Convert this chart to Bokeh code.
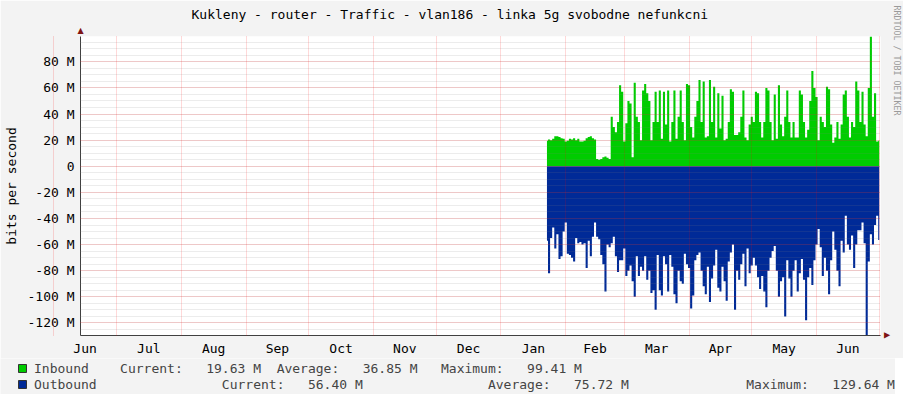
from bokeh.plotting import figure
from bokeh.layouts import column
from bokeh.models import Range1d, FixedTicker, Legend, LegendItem, ColumnDataSource, Title
from bokeh.embed import file_html
from bokeh.resources import INLINE

# ---------------- data ----------------
title_text = "Kukleny - router - Traffic - vlan186 - linka 5g svobodne nefunkcni"
y_axis_title = "bits per second"
watermark_text = "RRDTOOL / TOBI OETIKER"

month_labels = ["Jun", "Jul", "Aug", "Sep", "Oct", "Nov", "Dec", "Jan", "Feb", "Mar", "Apr", "May", "Jun"]
# day index (days since 1 Jun) of each month start, last entry = 1 Jul next year
month_start_day = [0, 30, 61, 92, 122, 153, 183, 214, 245, 273, 304, 334, 365, 395]
view_start_day = 12.8
view_end_day = 395.6

first_sample_day = 236   # first day with data (late January)

inbound_mbps = [
    19.5, 20.5, 20, 21, 23, 23, 22.5, 21.5, 21, 19,
    19.5, 21, 20.5, 21.5, 20, 21, 19, 19, 19.5, 21.5,
    22.5, 23, 21.5, 20.5, 5.5, 5, 5.5, 7, 7.5, 6.5,
    5.5,
    38, 30, 26, 34, 62, 57, 19, 33, 50, 48,
    7, 64, 38, 34, 20, 58, 63, 56, 50, 20,
    34, 57, 34, 58, 21, 57, 32, 58, 19, 34,
    58, 21, 38, 58, 34, 20, 63, 62, 30, 22,
    38, 50, 66, 34, 65, 22, 23, 66, 34, 61,
    22, 56, 29, 54, 20, 21, 34, 59, 57, 24,
    24, 26, 38, 58, 22, 20, 32, 38, 34, 57,
    56, 34, 22, 34, 60, 58, 34, 20, 55, 21,
    62, 32, 23, 38, 58, 34, 22, 34, 22, 22,
    58, 55, 34, 22, 28, 50, 73, 60, 53, 20,
    38, 34, 30, 61, 59, 32, 18, 22, 34, 21,
    32, 55, 58, 38, 22, 34, 30, 65, 58, 34,
    57, 32, 23, 60, 99.41, 38, 56, 19, 19.63,
]

outbound_mbps = [
    57, 82, 55, 47, 63, 52, 71, 69, 50, 43,
    67, 68, 70, 73, 55, 59, 58, 60, 59, 78,
    57, 69, 54, 43, 54, 56, 68, 75, 96, 60,
    62, 59, 54, 69, 81, 72, 72, 63, 84, 80,
    76, 88, 100, 69, 84, 77, 80, 69, 87, 80,
    97, 95, 110, 68, 95, 99, 69, 75, 96, 68,
    77, 98, 105, 80, 88, 90, 67, 75, 78, 109,
    99, 72, 68, 66, 80, 92, 98, 77, 104, 86,
    76, 64, 93, 96, 77, 88, 103, 73, 66, 60,
    110, 80, 87, 75, 67, 92, 63, 82, 76, 70,
    76, 85, 94, 84, 96, 108, 80, 70, 65, 61,
    80, 100, 88, 85, 115, 72, 86, 100, 80, 72,
    96, 82, 71, 87, 118, 85, 78, 91, 72, 60,
    48, 62, 84, 70, 80, 98, 72, 50, 64, 80,
    92, 57, 66, 38, 60, 64, 53, 78, 60, 49,
    49, 43, 59, 129.64, 73, 52, 60, 45, 38, 56.4,
]

y_tick_values_m = [-120, -100, -80, -60, -40, -20, 0, 20, 40, 60, 80]
y_tick_labels = ["-120 M", "-100 M", "-80 M", "-60 M", "-40 M", "-20 M", "0", "20 M", "40 M", "60 M", "80 M"]
y_minor_step_m = 5
y_min_m = -129.64
y_max_m = 99.41

series_names = ["Inbound", "Outbound"]
series_colors = ["#00CC00", "#002A97"]
stat_current = ["19.63 M", "56.40 M"]
stat_average = ["36.85 M", "75.72 M"]
stat_maximum = ["99.41 M", "129.64 M"]

# ---------------- style constants ----------------
FONT = "DejaVu Sans Mono"
FS = "13px"
BG = "#F3F3F3"
ARROW = "#7F1414"
FRAME_L, FRAME_T, FRAME_W, FRAME_H = 73, 36, 800, 299
TOTAL_W = FRAME_L + FRAME_W + 22
NB = "\u00a0"

n = len(inbound_mbps)
days = [first_sample_day + i for i in range(n)]
src = ColumnDataSource(dict(
    day=days,
    zero=[0.0] * n,
    inb=[v * 1e6 for v in inbound_mbps],
    outb=[-v * 1e6 for v in outbound_mbps],
))

p = figure(
    frame_width=FRAME_W, frame_height=FRAME_H,
    x_range=Range1d(view_start_day, view_end_day),
    y_range=Range1d(y_min_m * 1e6, y_max_m * 1e6),
    output_backend="svg", toolbar_location=None,
    min_border_left=FRAME_L, min_border_right=22,
    min_border_top=FRAME_T, min_border_bottom=21,
    background_fill_color="white", border_fill_color=BG,
    outline_line_color=None,
)

p.varea_step(x="day", y1="zero", y2="inb", step_mode="center", source=src,
             fill_color=series_colors[0])
p.varea_step(x="day", y1="zero", y2="outb", step_mode="center", source=src,
             fill_color=series_colors[1])

# ---------------- axes ----------------
y_ticks = [int(v * 1e6) for v in y_tick_values_m]
y_minor = [int(v * 1e6) for v in range(-125, 100, y_minor_step_m)]
p.yaxis.ticker = FixedTicker(ticks=y_ticks, minor_ticks=y_minor)
p.yaxis.major_label_overrides = {t: lab for t, lab in zip(y_ticks, y_tick_labels)}
p.yaxis.axis_label = y_axis_title

mid = [(a + b) / 2 for a, b in zip(month_start_day[:-1], month_start_day[1:])]
mid = [int(m) if float(m).is_integer() else m for m in mid]
p.xaxis.ticker = FixedTicker(ticks=mid)
p.xaxis.major_label_overrides = {m: lab for m, lab in zip(mid, month_labels)}

for ax in (p.xaxis, p.yaxis):
    ax.major_tick_out = 0
    ax.major_tick_in = 0
    ax.minor_tick_out = 0
    ax.minor_tick_in = 0
    ax.axis_line_color = "#404040"
    ax.major_label_text_font = FONT
    ax.major_label_text_font_size = FS
    ax.major_label_text_color = "#000000"
    ax.axis_label_text_font = FONT
    ax.axis_label_text_font_size = FS
    ax.axis_label_text_font_style = "normal"
    ax.axis_label_text_color = "#000000"
p.yaxis.major_label_standoff = 6
p.yaxis.axis_label_standoff = 6
p.xaxis.major_label_standoff = 5

# ---------------- grids (drawn above the data like rrdtool) ----------------
p.xgrid.ticker = FixedTicker(ticks=month_start_day)
p.xgrid.grid_line_color = "#FF0000"
p.xgrid.grid_line_alpha = 0.3
p.xgrid.grid_line_dash = "1 1"
p.xgrid.level = "annotation"
p.ygrid.grid_line_color = "#FF0000"
p.ygrid.grid_line_alpha = 0.3
p.ygrid.grid_line_dash = "1 1"
p.ygrid.minor_grid_line_color = "#808080"
p.ygrid.minor_grid_line_alpha = 0.3
p.ygrid.minor_grid_line_dash = "1 1"
p.ygrid.level = "annotation"

# ---------------- titles ----------------
p.title.text = title_text
p.title.text_font = FONT
p.title.text_font_size = FS
p.title.text_font_style = "normal"
p.title.text_color = "#000000"
p.title.align = "left"
p.title.offset = 111
p.title.vertical_align = "bottom"
p.title.standoff = 0

p.add_layout(Title(text="\u25B2", align="left", offset=-3, vertical_align="bottom", standoff=4,
                   text_font="DejaVu Sans", text_font_size="8px", text_color=ARROW), "above")

p.add_layout(Title(text="\u25B2", align="right", offset=-3, vertical_align="top", standoff=0,
                   text_font="DejaVu Sans", text_font_size="8px", text_color=ARROW), "right")
p.add_layout(Title(text=watermark_text, align="left", offset=-31, vertical_align="bottom",
                   standoff=0, text_font=FONT, text_font_size="8.3px", text_font_style="normal",
                   text_color="#9A9A9A"), "right")

# ---------------- legend strip below the chart ----------------
def row_text(pieces):
    s = ""
    for col, txt in pieces:
        s = s + NB * max(0, col - len(s)) + txt
    return s

row_cols = [
    [0, 11, 22, 31, 42, 52, 63],
    [0, 24, 35, 58, 69, 91, 102],
]
labels = []
for i in range(2):
    c = row_cols[i]
    labels.append(row_text([
        (c[0], series_names[i]),
        (c[1], "Current:"), (c[2], stat_current[i]),
        (c[3], "Average:"), (c[4], stat_average[i]),
        (c[5], "Maximum:"), (c[6], stat_maximum[i]),
    ]))

leg_fig = figure(
    frame_width=TOTAL_W, frame_height=36,
    x_range=Range1d(0, 1), y_range=Range1d(0, 1),
    x_axis_type=None, y_axis_type=None,
    output_backend="svg", toolbar_location=None,
    min_border=0, background_fill_color=BG, border_fill_color=BG,
    outline_line_color=None,
)
leg_fig.xgrid.visible = False
leg_fig.ygrid.visible = False

# do not align the legend strip's frame with the chart frame
for fig in (p, leg_fig):
    try:
        fig.frame_align = False
    except AttributeError:
        pass

# swatch renderers: their only point lies outside the strip's range, so only the legend shows them
swatches = [leg_fig.vbar(x=[5], top=[5], bottom=[5], width=0.0, fill_color=c,
                         line_color="#333333")
            for c in series_colors]
legend = Legend(
    items=[LegendItem(label=lab, renderers=[r]) for lab, r in zip(labels, swatches)],
    location=(17, 2),
    orientation="vertical", padding=0, margin=0, spacing=0,
    glyph_width=10, glyph_height=10, label_standoff=7,
    label_height=16, label_width=10,
    label_text_font=FONT, label_text_font_size=FS,
    border_line_color=None, background_fill_alpha=0,
)
leg_fig.add_layout(legend)

layout = column(p, leg_fig, spacing=0)
open("out.html", "w").write(file_html(layout, INLINE))
